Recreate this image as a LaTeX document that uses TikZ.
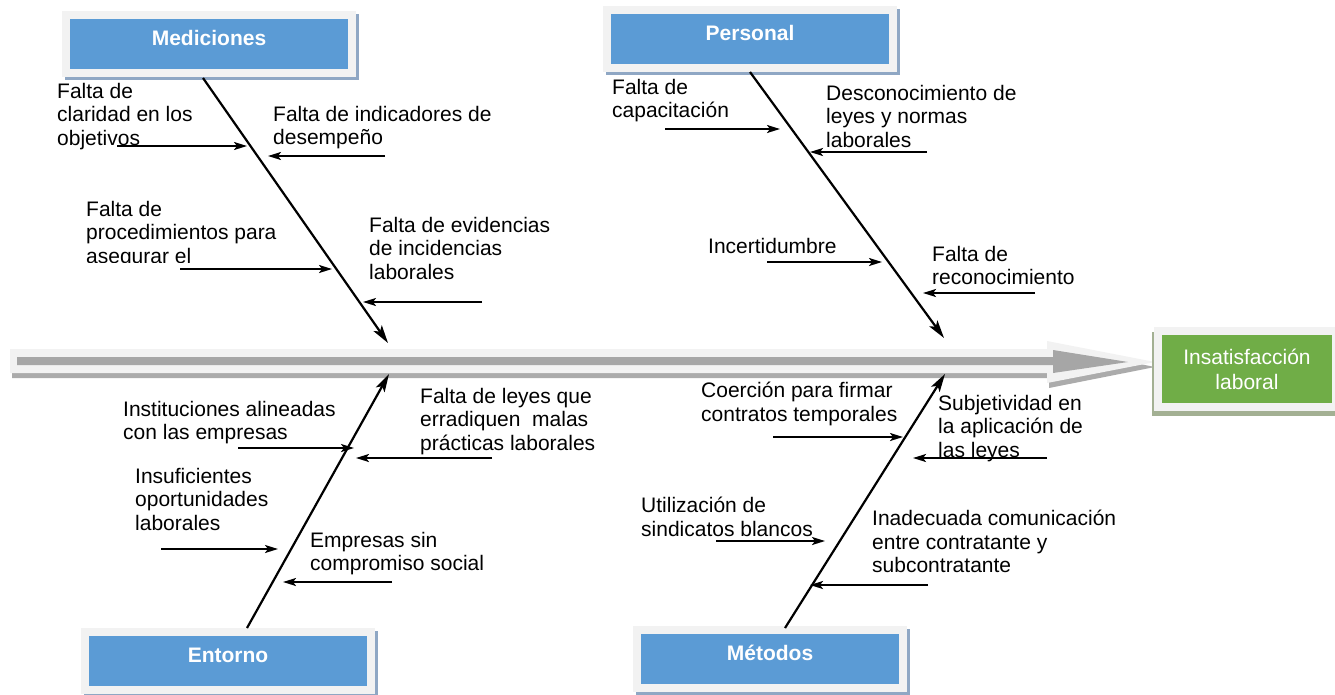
\documentclass[tikz,border=0pt]{standalone}
\usepackage{fontspec}
\setmainfont{Liberation Sans}
\usetikzlibrary{arrows.meta}
\definecolor{catblue}{HTML}{5B9BD5}
\definecolor{framegray}{HTML}{F2F2F2}
\definecolor{bshadow}{HTML}{8FA7C4}
\definecolor{effgreen}{HTML}{70AD47}
\definecolor{gshadow}{HTML}{A3B093}
\definecolor{bargray}{HTML}{A6A6A6}
\definecolor{barshadow}{HTML}{ABABAB}
\begin{document}
\begin{tikzpicture}[x=1pt,y=-1pt,
  catbox/.style={fill=catblue, text=white, font=\bfseries\fontsize{21}{24}\selectfont,
    minimum height=50pt, inner sep=0pt, text height=15pt, text depth=13pt,
    preaction={fill=bshadow, draw=bshadow, line width=16pt, transform canvas={shift={(3pt,-3pt)}}},
    preaction={draw=framegray, line width=16pt}},
  effbox/.style={fill=effgreen, text=white, font=\fontsize{21}{25}\selectfont, align=center,
    minimum height=68pt, minimum width=170pt, inner sep=0pt,
    preaction={fill=gshadow, draw=gshadow, line width=16pt, transform canvas={shift={(-2pt,-5pt)}}},
    preaction={draw=framegray, line width=16pt}},
  lbl/.style={anchor=north west, inner sep=0pt, align=left, font=\fontsize{21}{23.5}\selectfont},
  br/.style={line width=2pt, -{Stealth[length=13pt,width=8pt,inset=3pt]}},
  spine/.style={line width=2.2pt, -{Stealth[length=18pt,width=10pt,inset=4pt]}}
]
\useasboundingbox (0,0) rectangle (1335,694);
\clip (0,0) rectangle (1335,694);

% main arrow
\fill[barshadow] (12,354) -- (1049,354) -- (1049,346) -- (1155,367) -- (1049,388) -- (1049,378) -- (12,378) -- cycle;
\fill[framegray] (10,349) -- (1047,349) -- (1047,341) -- (1155,362) -- (1047,383) -- (1047,373) -- (10,373) -- cycle;
\fill[bargray] (17,357) -- (1053,357) -- (1053,350) -- (1128,362) -- (1053,373) -- (1053,365) -- (17,365) -- cycle;

% effect
\node[effbox] (eff) at (1247,369) {Insatisfacción\\laboral};

% categories
\node[catbox, minimum width=278pt] (med) at (209,44) {Mediciones};
\node[catbox, minimum width=278pt] (per) at (750,39) {Personal};
\node[catbox, minimum width=278pt] (ent) at (228,661) {Entorno};
\node[catbox, minimum width=258pt] (met) at (770,659) {Métodos};

% spines
\coordinate (medS) at (203,78);  \coordinate (medE) at (388,343);
\coordinate (perS) at (750,72);  \coordinate (perE) at (944,338);
\coordinate (entS) at (247,628); \coordinate (entE) at (389,374);
\coordinate (metS) at (785,628); \coordinate (metE) at (945,374);
\draw[spine] (medS) -- (medE);
\draw[spine] (perS) -- (perE);
\draw[spine] (entS) -- (entE);
\draw[spine] (metS) -- (metE);

% labels
\node[lbl] (t1) at (57,83) {Falta de\\claridad en los\\objetivos};
\node[lbl] (t2) at (273,106) {Falta de indicadores de\\desempeño};
\begin{scope}
\clip (0,0) rectangle (600,262);
\node[lbl] (t3) at (86,201) {Falta de\\procedimientos para\\asegurar el};
\end{scope}
\node[lbl] (t4) at (369,217) {Falta de evidencias\\de incidencias\\laborales};
\node[lbl] (t5) at (612,79) {Falta de\\capacitación};
\node[lbl] (t6) at (826,85) {Desconocimiento de\\leyes y normas\\laborales};
\node[lbl] (t7) at (708,238) {Incertidumbre};
\node[lbl] (t8) at (932,246) {Falta de\\reconocimiento};
\node[lbl] (t9) at (123,401) {Instituciones alineadas\\con las empresas};
\node[lbl] (t10) at (420,388) {Falta de leyes que\\erradiquen\ \ malas\\prácticas laborales};
\node[lbl] (t11) at (135,468) {Insuficientes\\oportunidades\\laborales};
\node[lbl] (t12) at (310,532) {Empresas sin\\compromiso social};
\node[lbl] (t13) at (701,382) {Coerción para firmar\\contratos temporales};
\node[lbl] (t14) at (938,395) {Subjetividad en\\la aplicación de\\las leyes};
\node[lbl] (t15) at (641,497) {Utilización de\\sindicatos blancos};
\node[lbl] (t16) at (872,510) {Inadecuada comunicación\\entre contratante y\\subcontratante};

% branch arrows
\coordinate (s1) at (117,146);  \coordinate (e1) at (247,146);
\coordinate (s2) at (385,156);  \coordinate (e2) at (268,156);
\coordinate (s3) at (180,269);  \coordinate (e3) at (332,269);
\coordinate (s4) at (482,302);  \coordinate (e4) at (363,302);
\coordinate (s5) at (665,129);  \coordinate (e5) at (780,129);
\coordinate (s6) at (927,152);  \coordinate (e6) at (810,152);
\coordinate (s7) at (767,262);  \coordinate (e7) at (882,262);
\coordinate (s8) at (1035,293); \coordinate (e8) at (923,293);
\coordinate (s9) at (238,448);  \coordinate (e9) at (354,448);
\coordinate (s10) at (492,458); \coordinate (e10) at (356,458);
\coordinate (s11) at (161,549); \coordinate (e11) at (278,549);
\coordinate (s12) at (392,582); \coordinate (e12) at (283,582);
\coordinate (s13) at (773,437); \coordinate (e13) at (903,437);
\coordinate (s14) at (1047,458);\coordinate (e14) at (913,458);
\coordinate (s15) at (716,541); \coordinate (e15) at (825,541);
\coordinate (s16) at (928,585); \coordinate (e16) at (810,585);
\foreach \i in {1,...,16} {\draw[br] (s\i) -- (e\i);}
\end{tikzpicture}
\end{document}
